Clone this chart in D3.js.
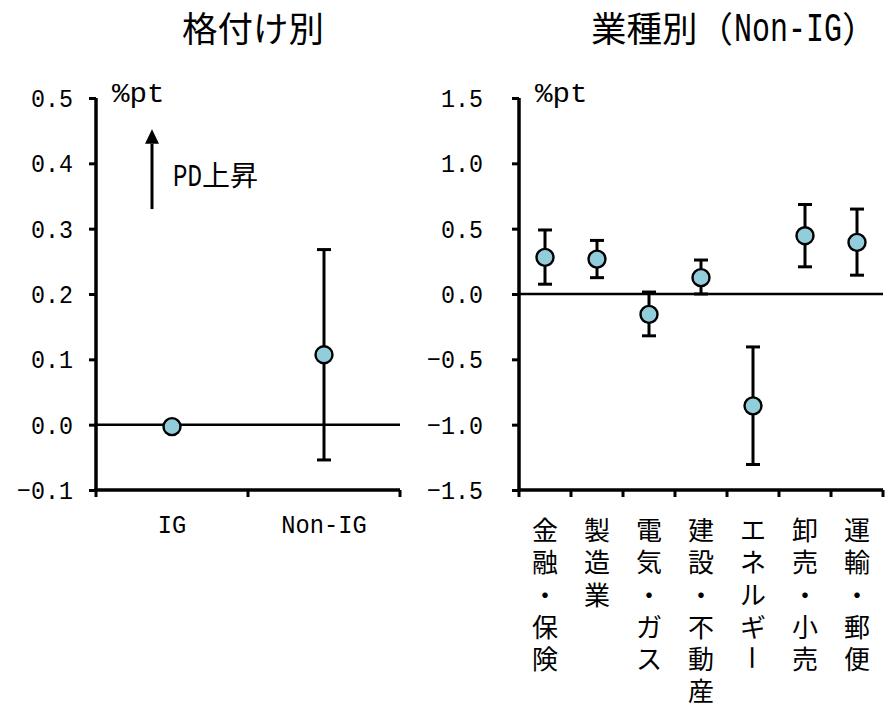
<!DOCTYPE html>
<html>
<head>
<meta charset="utf-8">
<script src="https://cdn.jsdelivr.net/npm/d3@7"></script>
<style>
  body { margin: 0; background: #fff; }
  svg { display: block; }
</style>
</head>
<body>
<div id="container"></div>
<script>
// --- data ---
var gradeCats = ['IG', 'Non-IG'];
var gradeVals = [-0.003, 0.107];
var gradeHi   = [null, 0.268];
var gradeLo   = [null, -0.054];
var gradeTicks = [-0.1, 0, 0.1, 0.2, 0.3, 0.4, 0.5];

var indCats = ['金融・保険', '製造業', '電気・ガス', '建設・不動産', 'エネルギー', '卸売・小売', '運輸・郵便'];
var indVals = [0.28, 0.267, -0.156, 0.125, -0.856, 0.446, 0.395];
var indHi   = [0.49, 0.41, 0.015, 0.26, -0.405, 0.685, 0.65];
var indLo   = [0.075, 0.125, -0.32, 0.0, -1.305, 0.208, 0.144];
var indTicks = [-1.5, -1.0, -0.5, 0, 0.5, 1.0, 1.5];

var width = 887,
	height = 704;

var MONO = '"Liberation Mono", monospace',
	JP = '"Noto Sans CJK JP", sans-serif',
	fill = '#92cddc';

var svg = d3.select('#container').append('svg')
	.attr('width', width)
	.attr('height', height)
	.style('font-family', JP);

var fmt = d3.format('.1f');

// narrow monospace text, squeezed horizontally to look like a half-width gothic
function mono(sel, x, y, s, fs, sx, anchor) {
	return sel.append('g')
		.attr('transform', 'translate(' + x + ',' + y + ') scale(' + sx + ',1)')
		.append('text')
			.attr('font-family', MONO)
			.attr('font-size', fs)
			.attr('text-anchor', anchor || 'start')
			.text(s);
}

function panel(opts) {
	var x = d3.scaleBand()
		.domain(opts.cats)
		.range(opts.xr);
	var y = d3.scaleLinear()
		.domain(opts.dom)
		.range([490, 98]);

	var g = svg.append('g');

	// y axis
	var ya = g.append('g')
		.attr('transform', 'translate(' + opts.xr[0] + ',0)')
		.call(d3.axisLeft(y).tickValues(opts.ticks).tickSize(7).tickFormat(fmt));
	ya.select('.domain').attr('stroke-width', 3.5).attr('d', 'M0,' + y(opts.dom[0]) + 'V' + y(opts.dom[1]));
	ya.selectAll('.tick line').attr('stroke-width', 3);
	ya.selectAll('.tick text')
		.attr('font-size', 26.5)
		.attr('font-family', MONO)
		.attr('fill', '#000')
		.attr('x', -opts.pad / 0.88)
		.attr('transform', 'scale(0.88,1)');

	// x axis
	var xa = g.append('g')
		.attr('transform', 'translate(0,' + y(opts.dom[0]) + ')');
	xa.append('line')
		.attr('x1', opts.xr[0] - 1.5).attr('x2', opts.xr[1])
		.attr('stroke', '#000').attr('stroke-width', 3.5);
	var edges = opts.cats.map(function(c) { return x(c); }).concat([opts.xr[1]]);
	xa.selectAll('line.tk').data(edges).enter().append('line')
		.attr('class', 'tk')
		.attr('x1', function(d) { return d; }).attr('x2', function(d) { return d; })
		.attr('y1', 0).attr('y2', 7)
		.attr('stroke', '#000').attr('stroke-width', 3);

	// zero line
	g.append('line')
		.attr('x1', opts.xr[0]).attr('x2', opts.xr[1])
		.attr('y1', y(0)).attr('y2', y(0))
		.attr('stroke', '#000').attr('stroke-width', 2.5);

	var cx = function(i) { return x(opts.cats[i]) + x.bandwidth() / 2; };

	// error bars
	opts.vals.forEach(function(v, i) {
		if (opts.hi[i] == null) return;
		var eb = g.append('g').attr('stroke', '#000').attr('stroke-width', 3);
		eb.append('line').attr('x1', cx(i)).attr('x2', cx(i)).attr('y1', y(opts.hi[i])).attr('y2', y(opts.lo[i]));
		eb.append('line').attr('x1', cx(i) - 7).attr('x2', cx(i) + 7).attr('y1', y(opts.hi[i])).attr('y2', y(opts.hi[i]));
		eb.append('line').attr('x1', cx(i) - 7).attr('x2', cx(i) + 7).attr('y1', y(opts.lo[i])).attr('y2', y(opts.lo[i]));
	});

	// points
	g.selectAll('circle').data(opts.vals).enter().append('circle')
		.attr('cx', function(d, i) { return cx(i); })
		.attr('cy', function(d) { return y(d); })
		.attr('r', 8.5)
		.attr('fill', fill)
		.attr('stroke', '#000')
		.attr('stroke-width', 2.4);

	// unit
	mono(g, opts.xr[0] + 16, 102, '%pt', 27, 1.08);

	return { g: g, x: x, y: y, cx: cx };
}

var left = panel({
	cats: gradeCats, vals: gradeVals, hi: gradeHi, lo: gradeLo,
	dom: [-0.1, 0.5], ticks: gradeTicks, xr: [96, 400], pad: 23
});

var right = panel({
	cats: indCats, vals: indVals, hi: indHi, lo: indLo,
	dom: [-1.5, 1.5], ticks: indTicks, xr: [519, 883], pad: 36
});

// titles
svg.append('text')
	.attr('x', 253).attr('y', 41.5)
	.attr('text-anchor', 'middle')
	.attr('font-size', 35.5)
	.text('格付け別');
svg.append('text')
	.attr('x', 591).attr('y', 41.5)
	.attr('font-size', 35.5)
	.text('業種別（');
mono(svg, 734, 41, 'Non-IG', 40.5, 0.74);
svg.append('text')
	.attr('x', 842).attr('y', 41.5)
	.attr('font-size', 35.5)
	.text('）');

// left category labels
gradeCats.forEach(function(c, i) {
	mono(left.g, left.cx(i), 533, c, 25, 0.95, 'middle');
});

// right category labels, one character per line
indCats.forEach(function(c, i) {
	Array.from(c).forEach(function(ch, j) {
		var ty = 528.7 + j * 32.2;
		var t = right.g.append('text')
			.attr('x', right.cx(i))
			.attr('y', ty)
			.attr('text-anchor', 'middle')
			.attr('dominant-baseline', 'central')
			.attr('font-size', 26)
			.text(ch);
		if (ch === 'ー') t.attr('transform', 'rotate(90,' + right.cx(i) + ',' + ty + ')');
	});
});

// PD up arrow
var ax = 152;
left.g.append('line')
	.attr('x1', ax).attr('x2', ax)
	.attr('y1', left.y(0.33)).attr('y2', left.y(0.43))
	.attr('stroke', '#000').attr('stroke-width', 3);
left.g.append('path')
	.attr('d', 'M' + ax + ',' + left.y(0.452) + 'L' + (ax - 7) + ',' + left.y(0.43) + 'L' + (ax + 7) + ',' + left.y(0.43) + 'Z')
	.attr('fill', '#000');
mono(left.g, 173, 186, 'PD', 32, 0.755);
left.g.append('text')
	.attr('x', 202).attr('y', 186)
	.attr('font-size', 28)
	.text('上昇');
</script>
</body>
</html>
